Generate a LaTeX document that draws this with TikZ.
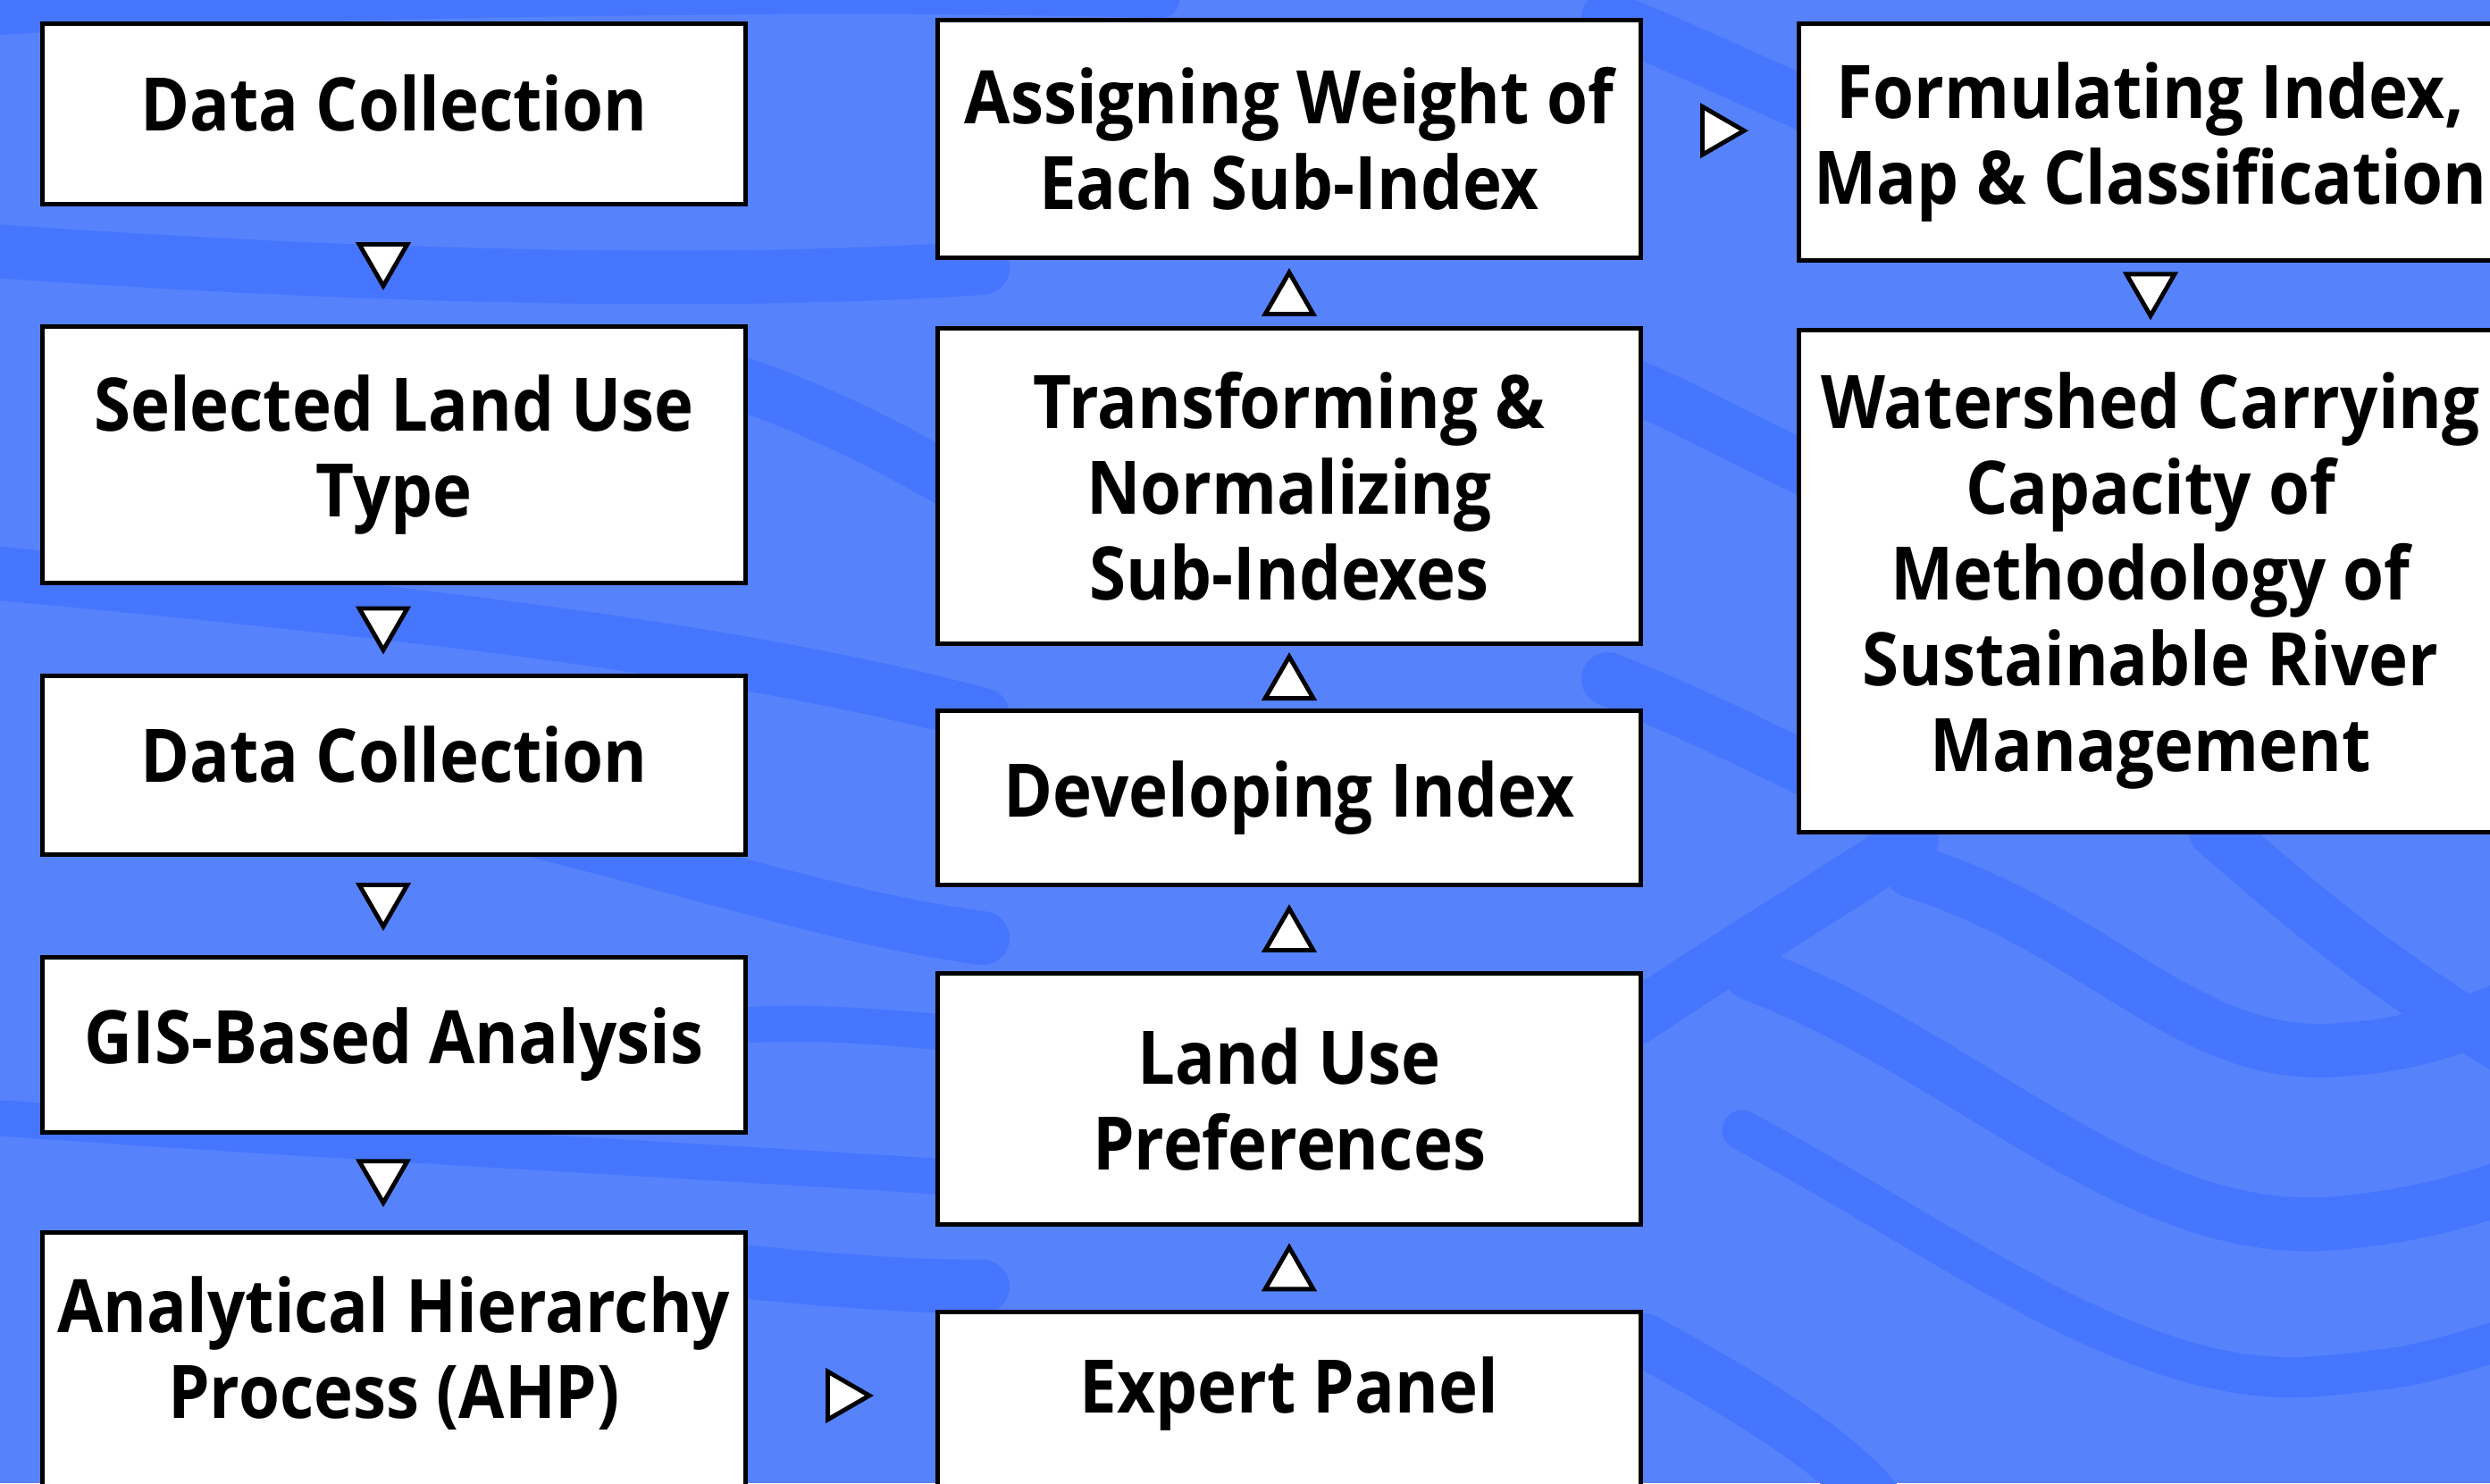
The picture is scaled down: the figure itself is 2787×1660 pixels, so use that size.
\documentclass[tikz,border=0pt]{standalone}
\usepackage{fontspec}
\setmainfont{Open Sans}[FakeStretch=0.9]
\usetikzlibrary{shapes.geometric,calc}
\definecolor{bglight}{HTML}{5683FC}
\definecolor{bgdark}{HTML}{4676FE}
\begin{document}
\begin{tikzpicture}[x=0.01cm,y=-0.01cm,
  boxtext/.style={align=center, font=\fontsize{23.5}{27.3}\selectfont\bfseries, text=black},
  box/.style={boxtext, draw=black, fill=white, line width=1.4pt, minimum width=7.86cm, inner sep=0pt},
  tri/.style={draw=black, fill=white, line width=1.4pt, line join=miter, regular polygon, regular polygon sides=3, minimum size=0.62cm, inner sep=0pt},
  tridown/.style={tri, shape border rotate=180},
  triup/.style={tri},
  triright/.style={tri, shape border rotate=-90},
  band/.style={draw=bgdark, line width=0.6cm, line cap=round}
]
\useasboundingbox (0,0) rectangle (2787,1660);
\fill[bglight] (0,0) rectangle (2787,1660);
\begin{scope}
\clip (0,0) rectangle (2787,1660);
% background texture
\draw[band] (1830,1140) .. controls (1950,1060) and (2050,1000) .. (2140,940);
\draw[band] (2140,975) .. controls (2350,1040) and (2450,1190) .. (2620,1175) .. controls (2700,1170) and (2750,1150) .. (2800,1130);
\draw[band] (2480,930) .. controls (2560,1000) and (2650,1080) .. (2800,1170);
\draw[band] (1960,1090) .. controls (2200,1180) and (2380,1380) .. (2600,1370) .. controls (2680,1365) and (2740,1350) .. (2800,1330);
\draw[band,line width=0.45cm] (1950,1265) .. controls (2200,1400) and (2400,1560) .. (2600,1540) .. controls (2700,1530) .. (2800,1500);
\draw[band] (1840,1500) .. controls (1950,1560) and (2050,1620) .. (2100,1680);
\draw[band] (-20,280) .. controls (400,310) and (800,320) .. (1100,300);
\draw[band] (800,420) .. controls (900,450) and (1000,500) .. (1100,560);
\draw[band] (-20,640) .. controls (400,680) and (800,720) .. (1100,800);
\draw[band] (600,930) .. controls (800,980) and (950,1030) .. (1100,1050);
\draw[band,line width=0.4cm] (800,1150) .. controls (900,1140) and (1000,1150) .. (1100,1160);
\draw[band,line width=0.4cm] (-20,1250) .. controls (400,1280) and (800,1300) .. (1100,1320);
\draw[band] (800,1420) .. controls (900,1430) and (1000,1440) .. (1100,1440);
\draw[band] (1800,20) .. controls (1900,60) and (2000,110) .. (2100,150);
\draw[band] (1800,420) .. controls (1900,460) and (2000,520) .. (2100,560);
\draw[band] (1800,760) .. controls (1900,800) and (2000,850) .. (2100,900);
\draw[band,line width=0.4cm] (-20,20) .. controls (300,0) and (900,-10) .. (1300,0);

% left column
\node[box, minimum height=2.01cm, text depth=7pt] (L1) at (441,127.5) {Data Collection};
\node[box, minimum height=2.86cm] (L2) at (441,509) {Selected Land Use\\Type};
\node[box, minimum height=1.99cm, text depth=7pt] (L3) at (441,856.5) {Data Collection};
\node[box, minimum height=1.95cm] (L4) at (441,1169.5) {GIS-Based Analysis};
\node[box, minimum height=3.4cm, anchor=north] (L5) at (441,1377) {};
\node[boxtext] (L5t) at (441,1515) {Analytical Hierarchy\\Process (AHP)};

% middle column
\node[box, minimum height=2.65cm] (M1) at (1443,155.5) {Assigning Weight of\\Each Sub-Index};
\node[box, minimum height=3.52cm] (M2) at (1443,544) {Transforming \&\\Normalizing\\Sub-Indexes};
\node[box, minimum height=1.94cm] (M3) at (1443,893) {Developing Index};
\node[box, minimum height=2.80cm] (M4) at (1443,1230) {Land Use\\Preferences};
\node[box, minimum height=3.0cm, anchor=north] (M5) at (1443,1466) {};
\node[boxtext] (M5t) at (1443,1560) {Expert Panel};

% right column
\node[box, minimum height=2.64cm] (R1) at (2407,159) {Formulating Index,\\Map \& Classification};
\node[box, minimum height=5.61cm] (R2) at (2407,650.5) {Watershed Carrying\\Capacity of\\Methodology of\\Sustainable River\\Management};

% flow markers
\node[tridown] (a1) at ($(L1.south)!0.5!(L2.north)+(-12,-8)$) {};
\node[tridown] (a2) at ($(L2.south)!0.5!(L3.north)+(-12,-8)$) {};
\node[tridown] (a3) at ($(L3.south)!0.5!(L4.north)+(-12,-8)$) {};
\node[tridown] (a4) at ($(L4.south)!0.5!(L5.north)+(-12,-8)$) {};
\node[triright] (a5) at ($(L5.east |- M5t)!0.5!(M5.west |- M5t)+(0,2)$) {};
\node[triup] (a6) at ($(M5.north)!0.5!(M4.south)+(0,8)$) {};
\node[triup] (a7) at ($(M4.north)!0.5!(M3.south)+(0,8)$) {};
\node[triup] (a8) at ($(M3.north)!0.5!(M2.south)+(0,8)$) {};
\node[triup] (a9) at ($(M2.north)!0.5!(M1.south)+(0,8)$) {};
\node[triright] (a10) at ($(M1.east)!0.5!(R1.west)+(-4,-11)$) {};
\node[tridown] (a11) at ($(R1.south)!0.5!(R2.north)+(0,-8)$) {};
\end{scope}
\end{tikzpicture}
\end{document}
